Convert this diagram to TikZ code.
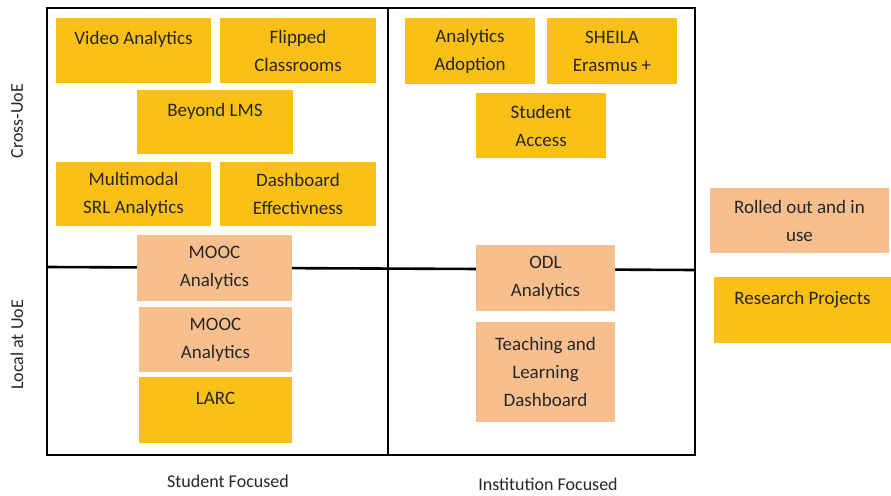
\documentclass[tikz,border=0pt]{standalone}
\usepackage{fontspec}
\setmainfont{Carlito}
\usepackage{tikz}

\definecolor{projorange}{RGB}{251,192,22}
\definecolor{rolledpeach}{RGB}{248,191,142}

\begin{document}
\begin{tikzpicture}[x=1pt, y=-1pt,
    box/.style={rectangle, inner sep=0pt, align=center, text=black!85,
        font=\fontsize{19}{28}\selectfont},
    research/.style={box, fill=projorange},
    rolled/.style={box, fill=rolledpeach},
    oneline/.style={text height=14pt, text depth=25pt},
    axislabel/.style={text=black!85, font=\fontsize{18}{22}\selectfont}]
    \useasboundingbox (0,0) rectangle (891,495);

    % Quadrant frame
    \draw[line width=2.6pt] (47,8) rectangle (695,455);
    \draw[line width=2.6pt] (388,8) -- (388,455);
    \draw[line width=2.6pt] (47,267) -- (695,270);

    % Student focused, cross-UoE
    \node[research, oneline, minimum width=155pt, minimum height=65pt] (video) at (133.5,50.5) {Video Analytics};
    \node[research, minimum width=156pt, minimum height=65pt] (flipped) at (298,50.5) {Flipped\\Classrooms};
    \node[research, oneline, minimum width=156pt, minimum height=64pt] (beyond) at (215,122) {Beyond LMS};
    \node[research, minimum width=155pt, minimum height=64pt] (multimodal) at (133.5,194) {Multimodal\\SRL Analytics};
    \node[research, minimum width=156pt, minimum height=64pt] (dasheff) at (298,194) {Dashboard\\Effectivness};

    % Student focused, local at UoE
    \node[rolled, minimum width=155pt, minimum height=66pt] (moocA) at (214.5,268) {MOOC\\Analytics};
    \node[rolled, minimum width=153pt, minimum height=65pt] (moocB) at (215.5,339.5) {MOOC\\Analytics};
    \node[research, oneline, minimum width=153pt, minimum height=66pt] (larc) at (215.5,410) {LARC};

    % Institution focused
    \node[research, minimum width=130pt, minimum height=66pt] (adoption) at (470,51) {Analytics\\Adoption};
    \node[research, minimum width=130pt, minimum height=66pt] (sheila) at (612,51) {SHEILA\\Erasmus +};
    \node[research, minimum width=130pt, minimum height=65pt] (access) at (541,125.5) {Student\\Access};
    \node[rolled, minimum width=139pt, minimum height=66pt] (odl) at (545.5,278) {ODL\\Analytics};
    \node[rolled, minimum width=139pt, minimum height=100pt] (tldash) at (545.5,372) {Teaching and\\Learning\\Dashboard};

    % Legend
    \node[rolled, minimum width=179pt, minimum height=65pt] (keyrolled) at (799.5,220.5) {Rolled out and in\\use};
    \node[research, oneline, minimum width=177pt, minimum height=66pt] (keyresearch) at (802.5,310) {Research Projects};

    % Axis labels
    \node[axislabel, rotate=90] (crossuoe) at (17,121) {Cross-UoE};
    \node[axislabel, rotate=90] (localuoe) at (17,345) {Local at UoE};
    \node[axislabel] (studentf) at (228,481) {Student Focused};
    \node[axislabel] (institutionf) at (548,484) {Institution Focused};
\end{tikzpicture}
\end{document}
